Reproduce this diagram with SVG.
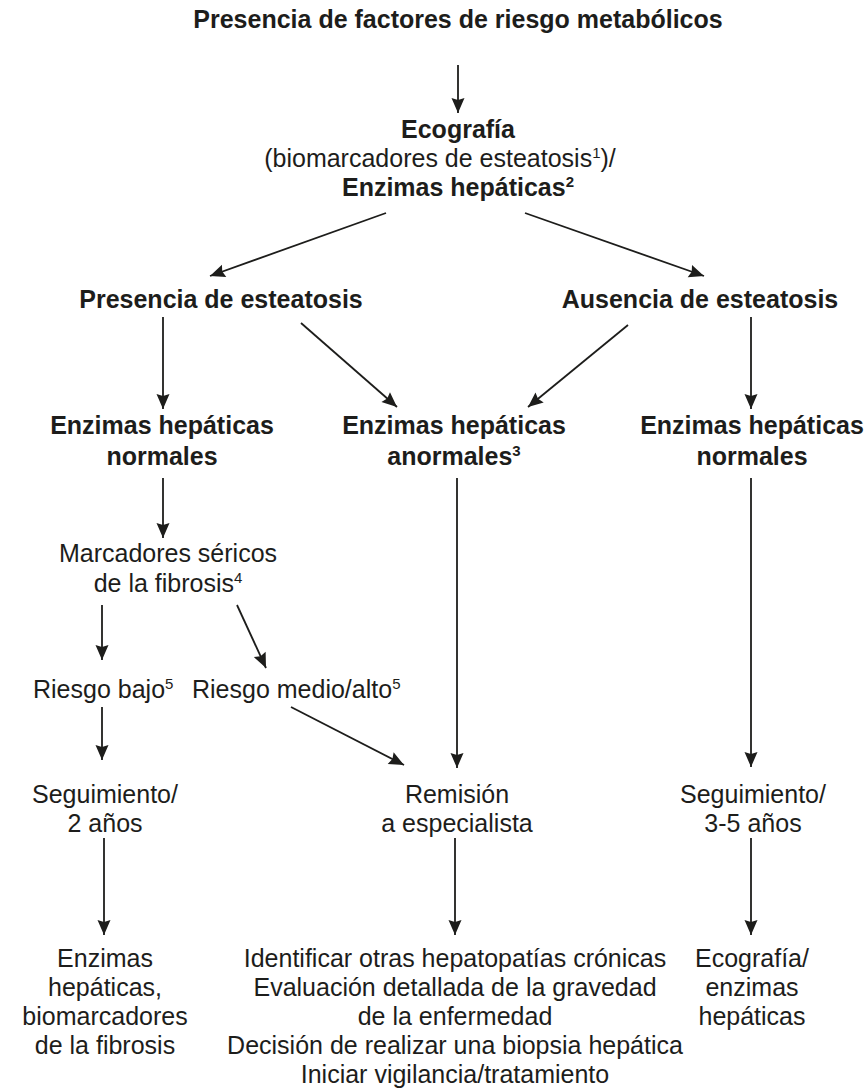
<svg xmlns="http://www.w3.org/2000/svg" width="868" height="1092" viewBox="0 0 868 1092">
<defs>
<style>
text{font-family:"Liberation Sans",Arial,Helvetica,sans-serif;font-size:25px;fill:#1d1d1b;text-anchor:middle}
.b{font-weight:bold}
.s{text-anchor:start}
.sup{font-size:15px}
.c{fill:none;stroke:#1d1d1b;stroke-width:1.8;marker-end:url(#ah)}
</style>
<marker id="ah" markerUnits="userSpaceOnUse" markerWidth="18" markerHeight="16" viewBox="-16 -8 18 16" refX="0" refY="0" orient="auto">
<path d="M-15,-6.5 L0,0 L-15,6.5 L-13,0 Z" fill="#1d1d1b"/>
</marker>
</defs>
<rect width="868" height="1092" fill="#fff"/>
<g id="connectors">
<line class="c" x1="458" y1="65" x2="458" y2="113"/>
<line class="c" x1="386" y1="213" x2="210" y2="276"/>
<line class="c" x1="525" y1="213" x2="704" y2="276"/>
<line class="c" x1="163" y1="317" x2="163" y2="409"/>
<line class="c" x1="301" y1="323" x2="397" y2="407"/>
<line class="c" x1="628" y1="325" x2="528" y2="407"/>
<line class="c" x1="751" y1="317" x2="751" y2="409"/>
<line class="c" x1="163" y1="478" x2="163" y2="538"/>
<line class="c" x1="457" y1="478" x2="457" y2="768"/>
<line class="c" x1="751" y1="478" x2="751" y2="767"/>
<line class="c" x1="102" y1="605" x2="102" y2="660"/>
<line class="c" x1="237" y1="605" x2="266" y2="668"/>
<line class="c" x1="102" y1="707" x2="102" y2="760"/>
<line class="c" x1="291" y1="707" x2="404" y2="765"/>
<line class="c" x1="104" y1="838" x2="104" y2="935"/>
<line class="c" x1="455" y1="838" x2="455" y2="935"/>
<line class="c" x1="751" y1="838" x2="751" y2="935"/>
</g>
<g id="n-factores"><text class="b" x="458" y="28">Presencia de factores de riesgo metabólicos</text></g>
<g id="n-ecografia">
<text class="b" x="458" y="138">Ecografía</text>
<text x="440" y="167">(biomarcadores de esteatosis<tspan class="sup" dy="-9">1</tspan><tspan dy="9">)/</tspan></text>
<text class="b" x="458" y="196">Enzimas hepáticas<tspan class="sup" dy="-9">2</tspan></text>
</g>
<g id="n-presencia"><text class="b" x="221" y="308">Presencia de esteatosis</text></g>
<g id="n-ausencia"><text class="b" x="700" y="308">Ausencia de esteatosis</text></g>
<g id="n-normales-izq">
<text class="b" x="162" y="434">Enzimas hepáticas</text>
<text class="b" x="162" y="465">normales</text>
</g>
<g id="n-anormales">
<text class="b" x="454" y="434">Enzimas hepáticas</text>
<text class="b" x="454" y="465">anormales<tspan class="sup" dy="-9">3</tspan></text>
</g>
<g id="n-normales-der">
<text class="b" x="752" y="434">Enzimas hepáticas</text>
<text class="b" x="752" y="465">normales</text>
</g>
<g id="n-marcadores">
<text x="168" y="562">Marcadores séricos</text>
<text x="168" y="592">de la fibrosis<tspan class="sup" dy="-9">4</tspan></text>
</g>
<g id="n-riesgo-bajo"><text class="s" x="33" y="698">Riesgo bajo<tspan class="sup" dy="-9">5</tspan></text></g>
<g id="n-riesgo-alto"><text class="s" x="192" y="698">Riesgo medio/alto<tspan class="sup" dy="-9">5</tspan></text></g>
<g id="n-seg2">
<text x="105" y="803">Seguimiento/</text>
<text x="105" y="832">2 años</text>
</g>
<g id="n-remision">
<text x="457" y="803">Remisión</text>
<text x="457" y="832">a especialista</text>
</g>
<g id="n-seg35">
<text x="753" y="803">Seguimiento/</text>
<text x="753" y="832">3-5 años</text>
</g>
<g id="n-enzimas-bio">
<text x="105" y="967">Enzimas</text>
<text x="105" y="996">hepáticas,</text>
<text x="105" y="1025">biomarcadores</text>
<text x="105" y="1054">de la fibrosis</text>
</g>
<g id="n-identificar">
<text x="455" y="967">Identificar otras hepatopatías crónicas</text>
<text x="455" y="996">Evaluación detallada de la gravedad</text>
<text x="455" y="1025">de la enfermedad</text>
<text x="455" y="1054">Decisión de realizar una biopsia hepática</text>
<text x="455" y="1083">Iniciar vigilancia/tratamiento</text>
</g>
<g id="n-eco-enz">
<text x="752" y="967">Ecografía/</text>
<text x="752" y="996">enzimas</text>
<text x="752" y="1025">hepáticas</text>
</g>
</svg>
